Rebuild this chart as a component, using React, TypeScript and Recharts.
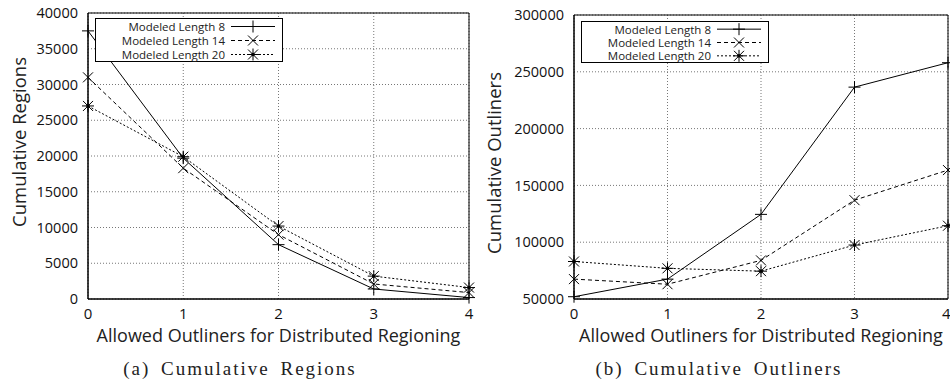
import React from 'react';
import {
  LineChart,
  Line,
  XAxis,
  YAxis,
  CartesianGrid,
  ReferenceArea,
} from 'recharts';

const outlierSteps = [0, 1, 2, 3, 4];
const seriesNames = ['Modeled Length 8', 'Modeled Length 14', 'Modeled Length 20'];

const regionsLen8 = [37500, 19700, 7600, 1400, 200];
const regionsLen14 = [31000, 18300, 9000, 2100, 900];
const regionsLen20 = [27000, 19900, 10200, 3200, 1600];

const outlinersLen8 = [52000, 67500, 124500, 236500, 258000];
const outlinersLen14 = [67500, 63000, 84000, 137000, 163500];
const outlinersLen20 = [83000, 77000, 74500, 97500, 114500];

const regionTicks = [0, 5000, 10000, 15000, 20000, 25000, 30000, 35000, 40000];
const outlinerTicks = [50000, 100000, 150000, 200000, 250000, 300000];

const FONT = '"Open Sans", "DejaVu Sans", sans-serif';

const regionsData = outlierSteps.map((x, i) => ({
  x,
  len8: regionsLen8[i],
  len14: regionsLen14[i],
  len20: regionsLen20[i],
}));

const outlinersData = outlierSteps.map((x, i) => ({
  x,
  len8: outlinersLen8[i],
  len14: outlinersLen14[i],
  len20: outlinersLen20[i],
}));

// gnuplot-ish point markers
const PlusMark = ({ cx, cy }: any) =>
  cx == null ? null : (
    <path d={`M${cx - 6},${cy}h12M${cx},${cy - 6}v12`} stroke="#000" strokeWidth={1} fill="none" />
  );

const CrossMark = ({ cx, cy }: any) =>
  cx == null ? null : (
    <path
      d={`M${cx - 5},${cy - 5}l10,10M${cx + 5},${cy - 5}l-10,10`}
      stroke="#000"
      strokeWidth={1}
      fill="none"
    />
  );

const StarMark = ({ cx, cy }: any) =>
  cx == null ? null : (
    <g>
      <path
        d={`M${cx - 6},${cy}h12M${cx},${cy - 6}v12M${cx - 5},${cy - 5}l10,10M${cx + 5},${cy - 5}l-10,10`}
        stroke="#000"
        strokeWidth={1}
        fill="none"
      />
      <circle cx={cx} cy={cy} r={1.8} fill="#000" />
    </g>
  );

const styles = [
  { key: 'len8', dash: undefined, Mark: PlusMark },
  { key: 'len14', dash: '4 3', Mark: CrossMark },
  { key: 'len20', dash: '2 2', Mark: StarMark },
];

function KeyBox({ left, top, height }: { left: number; top: number; height: number }) {
  const rowGap = (height - 2) / 3;
  return (
    <svg width={188} height={height} style={{ position: 'absolute', left, top, display: 'block' }}>
      <rect x={0.5} y={0.5} width={187} height={height - 1} fill="#fff" stroke="#000" />
      {styles.map((s, i) => {
        const y = rowGap * (i + 0.5) + 1.5;
        const M = s.Mark;
        return (
          <g key={s.key}>
            <text
              x={130}
              y={y}
              textAnchor="end"
              dominantBaseline="central"
              fontFamily={FONT}
              fontSize={11.5}
              fill="#222"
            >
              {seriesNames[i]}
            </text>
            <line x1={136} x2={180} y1={y} y2={y} stroke="#000" strokeDasharray={s.dash} />
            <M cx={158} cy={y} />
          </g>
        );
      })}
    </svg>
  );
}

function YTitle({ text, x, y }: { text: string; x: number; y: number }) {
  return (
    <text
      x={x}
      y={y}
      transform={`rotate(-90, ${x}, ${y})`}
      textAnchor="middle"
      dominantBaseline="central"
      fontFamily={FONT}
      fontSize={18.5}
      fill="#222"
    >
      {text}
    </text>
  );
}

function Panel({ data, ticks, yTitle, yTitleCy, yAxisWidth, top, right }: any) {
  const lo = ticks[0];
  const hi = ticks[ticks.length - 1];
  return (
    <LineChart width={475} height={352} data={data} margin={{ top, right, left: 0, bottom: 0 }}>
      <CartesianGrid stroke="#777" strokeDasharray="1 2" />
      <XAxis
        dataKey="x"
        type="number"
        domain={[0, 4]}
        ticks={outlierSteps}
        height={53}
        tickLine={false}
        axisLine={{ stroke: '#000' }}
        tick={{ fill: '#111', fontSize: 15, fontFamily: FONT }}
        tickMargin={3}
        label={{
          value: 'Allowed Outliners for Distributed Regioning',
          position: 'insideBottom',
          offset: 10,
          style: { fontFamily: FONT, fontSize: 18, fill: '#222' },
        }}
      />
      <YAxis
        type="number"
        domain={[lo, hi]}
        ticks={ticks}
        width={yAxisWidth}
        tickLine={false}
        axisLine={{ stroke: '#000' }}
        tick={{ fill: '#111', fontSize: 14.5, fontFamily: FONT }}
        tickMargin={4}
        interval={0}
        label={{ content: () => <YTitle text={yTitle} x={18} y={yTitleCy} /> }}
      />
      <ReferenceArea x1={0} x2={4} y1={lo} y2={hi} fill="none" stroke="#000" strokeOpacity={1} />
      {styles.map((s, i) => (
        <Line
          key={s.key}
          dataKey={s.key}
          name={seriesNames[i]}
          stroke="#000"
          strokeWidth={1}
          strokeDasharray={s.dash}
          dot={<s.Mark />}
          activeDot={false}
          isAnimationActive={false}
        />
      ))}
    </LineChart>
  );
}

const captionStyle: React.CSSProperties = {
  position: 'absolute',
  top: 358,
  fontFamily: '"Liberation Serif", "DejaVu Serif", serif',
  fontSize: 19,
  letterSpacing: 2,
  wordSpacing: 4,
  color: '#222',
  textAlign: 'center',
  width: 300,
};

export default function App() {
  return (
    <div style={{ position: 'absolute', left: 0, top: 0, width: 950, height: 382, background: '#fff', overflow: 'hidden' }}>
      <div style={{ position: 'absolute', left: 0, top: 0 }}>
        <Panel
          data={regionsData}
          ticks={regionTicks}
          yTitle="Cumulative Regions"
          yTitleCy={142}
          yAxisWidth={88}
          top={13}
          right={6}
        />
        <KeyBox left={95} top={18} height={44} />
      </div>
      <div style={{ position: 'absolute', left: 475, top: 0 }}>
        <Panel
          data={outlinersData}
          ticks={outlinerTicks}
          yTitle="Cumulative Outliners"
          yTitleCy={163}
          yAxisWidth={99}
          top={15}
          right={2}
        />
        <KeyBox left={106} top={21} height={42} />
      </div>
      <div style={{ ...captionStyle, left: 240 - 150 }}>(a) Cumulative Regions</div>
      <div style={{ ...captionStyle, left: 719 - 150 }}>(b) Cumulative Outliners</div>
    </div>
  );
}
